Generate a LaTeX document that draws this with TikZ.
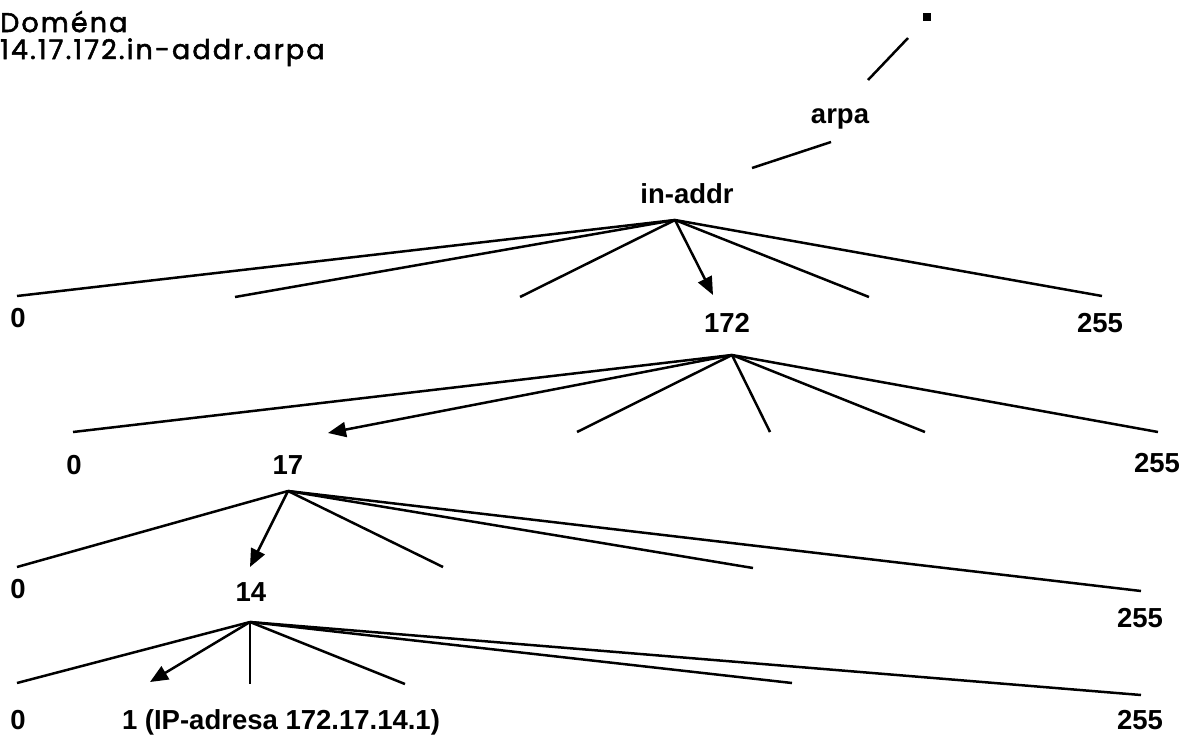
\documentclass[tikz,border=0pt]{standalone}
\usepackage{fontspec}
\setmainfont{Liberation Sans}
\newfontfamily\titlefont[FakeBold=2,LetterSpace=8]{Poppins}
\usetikzlibrary{arrows.meta}
\begin{document}
\begin{tikzpicture}[x=1pt,y=-1pt,
  lbl/.style={font=\fontsize{27.5}{30}\selectfont\bfseries, anchor=base, inner sep=0pt},
  ttl/.style={font=\titlefont\fontsize{27}{30}\selectfont, anchor=base west, inner sep=0pt},
  edge/.style={line width=2.5pt},
  ptr/.style={line width=2.5pt, -{Triangle[length=18pt,width=15pt]}}]
\useasboundingbox (0,0) rectangle (1182,734);

% title
\node[ttl] (t1) at (0,32) {Doména};
\node[ttl] (t2) at (0,59) {14.17.172.in-addr.arpa};

% root and upper nodes
\node[fill, minimum size=8pt, inner sep=0pt] (root) at (927,17) {};
\node[lbl] (arpa) at (840,123) {arpa};
\node[lbl] (inaddr) at (687,203) {in-addr};

\coordinate (r1) at (908,38); \coordinate (r2) at (868,80);
\coordinate (a1) at (831,142); \coordinate (a2) at (752,168);
\draw[edge] (r1) -- (r2);
\draw[edge] (a1) -- (a2);

% level 1
\node[lbl] (l1a) at (18,327) {0};
\node[lbl] (n172) at (727,332) {172};
\node[lbl] (l1b) at (1100,332) {255};
\coordinate (h1) at (675,220);
\coordinate (e11) at (17,296);
\coordinate (e12) at (235,297);
\coordinate (e13) at (520,297);
\coordinate (e14) at (713,295);
\coordinate (e15) at (869,297);
\coordinate (e16) at (1102,296);
\draw[edge] (h1) -- (e11);
\draw[edge] (h1) -- (e12);
\draw[edge] (h1) -- (e13);
\draw[ptr] (h1) -- (e14);
\draw[edge] (h1) -- (e15);
\draw[edge] (h1) -- (e16);

% level 2
\node[lbl] (l2a) at (74,474) {0};
\node[lbl] (n17) at (288,474) {17};
\node[lbl] (l2b) at (1157,472) {255};
\coordinate (h2) at (732,355);
\coordinate (e21) at (73,432);
\coordinate (e22) at (328,433);
\coordinate (e23) at (577,432);
\coordinate (e24) at (770,432);
\coordinate (e25) at (925,432);
\coordinate (e26) at (1158,432);
\draw[edge] (h2) -- (e21);
\draw[ptr] (h2) -- (e22);
\draw[edge] (h2) -- (e23);
\draw[edge] (h2) -- (e24);
\draw[edge] (h2) -- (e25);
\draw[edge] (h2) -- (e26);

% level 3
\node[lbl] (l3a) at (18,598) {0};
\node[lbl] (n14) at (251,601) {14};
\node[lbl] (l3b) at (1140,627) {255};
\coordinate (h3) at (288,491);
\coordinate (e31) at (17,567);
\coordinate (e32) at (250,567);
\coordinate (e33) at (443,567);
\coordinate (e34) at (753,568);
\coordinate (e35) at (1141,591);
\draw[edge] (h3) -- (e31);
\draw[ptr] (h3) -- (e32);
\draw[edge] (h3) -- (e33);
\draw[edge] (h3) -- (e34);
\draw[edge] (h3) -- (e35);

% level 4
\node[lbl] (l4a) at (18,729) {0};
\node[lbl] (n1) at (281,729) {1 (IP-adresa 172.17.14.1)};
\node[lbl] (l4b) at (1140,729) {255};
\coordinate (h4) at (250,622);
\coordinate (e41) at (17,683);
\coordinate (e42) at (150,682);
\coordinate (e43) at (250,684);
\coordinate (e44) at (405,684);
\coordinate (e45) at (792,683);
\coordinate (e46) at (1141,695);
\draw[edge] (h4) -- (e41);
\draw[ptr] (h4) -- (e42);
\draw[edge] (h4) -- (e43);
\draw[edge] (h4) -- (e44);
\draw[edge] (h4) -- (e45);
\draw[edge] (h4) -- (e46);
\end{tikzpicture}
\end{document}
